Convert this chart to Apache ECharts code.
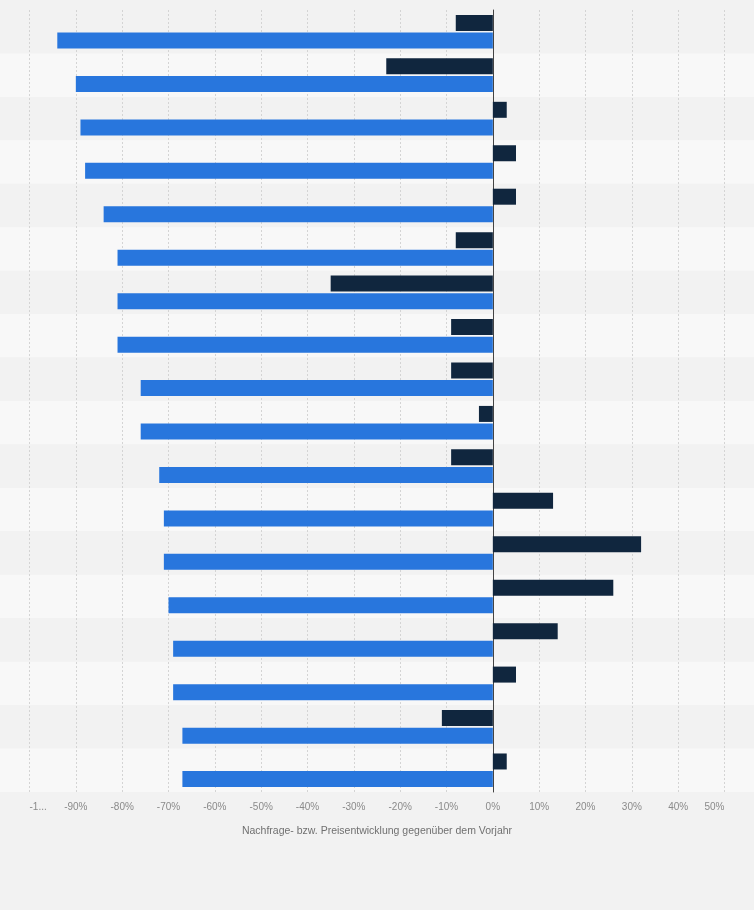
<!DOCTYPE html>
<html>
<head>
<meta charset="utf-8">
<script src="https://cdn.jsdelivr.net/npm/echarts@6/dist/echarts.min.js"></script>
<style>
  html, body { margin: 0; padding: 0; background: #f2f2f2; }
  #main { width: 754px; height: 910px; }
</style>
</head>
<body>
<div id="main"></div>
<script>
var chart = echarts.init(document.getElementById('main'));

// 18 rows, labels are not shown in the picture
var categories = ['1', '2', '3', '4', '5', '6', '7', '8', '9', '10', '11', '12', '13', '14', '15', '16', '17', '18'];

// dark bars (Preis)
var preis = [-8, -23, 3, 5, 5, -8, -35, -9, -9, -3, -9, 13, 32, 26, 14, 5, -11, 3];
// blue bars (Nachfrage)
var nachfrage = [-94, -90, -89, -88, -84, -81, -81, -81, -76, -76, -72, -71, -71, -70, -69, -69, -67, -67];

var xTicks = { min: -100, max: 50, step: 10 };
var axisTitle = 'Nachfrage- bzw. Preisentwicklung gegenüber dem Vorjahr';

var option = {
    backgroundColor: '#f2f2f2',
    animation: false,
    grid: [
        { left: 29.5, right: 29.5, top: 10, bottom: 118 },
        { left: 0, right: 0, top: 10, bottom: 118 }
    ],
    xAxis: [
        {
            type: 'value',
            gridIndex: 0,
            z: 3,
            min: xTicks.min,
            max: xTicks.max,
            interval: xTicks.step,
            name: axisTitle,
            nameLocation: 'middle',
            nameGap: 34,
            nameTextStyle: { color: '#707070', fontSize: 10.5, fontFamily: 'Liberation Sans' },
            axisLine: { show: false },
            axisTick: { show: false },
            axisLabel: {
                color: '#8a8a8a',
                fontSize: 10,
                fontFamily: 'Liberation Sans',
                margin: 10,
                alignMinLabel: 'left',
                alignMaxLabel: 'right',
                formatter: function (v) {
                    return v === -100 ? '-1...' : v + '%';
                }
            },
            splitLine: { show: true, lineStyle: { color: '#d4d4d4', type: [2, 2], width: 1 } }
        },
        {
            type: 'value',
            gridIndex: 1,
            show: false,
            min: 0,
            max: 1
        }
    ],
    yAxis: [
        {
            type: 'category',
            gridIndex: 0,
            z: 4,
            data: categories,
            inverse: true,
            axisLine: { show: true, onZero: true, lineStyle: { color: '#444', width: 1 } },
            axisTick: { show: false },
            axisLabel: { show: false },
            splitLine: { show: false }
        },
        {
            type: 'category',
            gridIndex: 1,
            z: 0,
            data: categories,
            inverse: true,
            axisLine: { show: false },
            axisTick: { show: false },
            axisLabel: { show: false },
            splitArea: { show: true, areaStyle: { color: ['#f2f2f2', '#f8f8f8'] } }
        }
    ],
    series: [
        {
            name: 'Preis',
            type: 'bar',
            xAxisIndex: 0,
            yAxisIndex: 0,
            data: preis,
            barWidth: 16,
            barGap: '10%',
            itemStyle: { color: '#10263e' },
            z: 5
        },
        {
            name: 'Nachfrage',
            type: 'bar',
            xAxisIndex: 0,
            yAxisIndex: 0,
            data: nachfrage,
            barWidth: 16,
            barGap: '10%',
            itemStyle: { color: '#2876dd' },
            z: 5
        }
    ]
};

chart.setOption(option);
</script>
</body>
</html>
